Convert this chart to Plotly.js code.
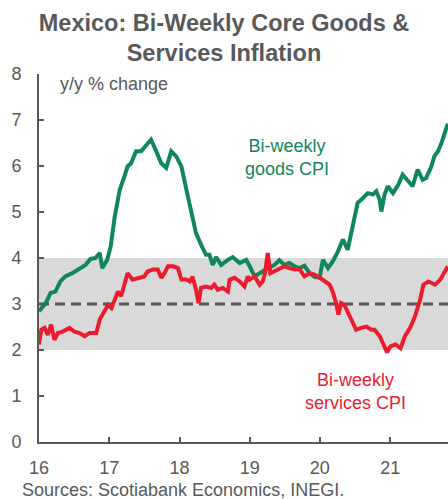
<!DOCTYPE html>
<html>
<head>
<meta charset="utf-8">
<script src="https://cdn.plot.ly/plotly-3.0.1.min.js"></script>
<style>html,body{margin:0;padding:0;background:#fff;}#chart{width:448px;height:499px;}</style>
</head>
<body>
<div id="chart"></div>
<script>
// Bi-weekly core goods CPI, y/y % change
const goodsDates = ["2016-01-01","2016-02-05","2016-03-01","2016-03-26","2016-04-21","2016-05-17","2016-06-22","2016-07-26","2016-08-30","2016-09-25","2016-10-21","2016-11-12","2016-11-25","2016-12-21","2017-01-08","2017-01-29","2017-02-24","2017-03-20","2017-04-06","2017-04-24","2017-05-20","2017-06-15","2017-07-11","2017-08-06","2017-09-02","2017-09-28","2017-10-24","2017-11-19","2017-12-15","2018-01-11","2018-02-06","2018-03-02","2018-03-28","2018-04-23","2018-05-19","2018-06-06","2018-06-23","2018-07-10","2018-08-06","2018-09-10","2018-10-05","2018-11-10","2018-12-14","2019-01-01","2019-01-27","2019-03-10","2019-04-05","2019-05-10","2019-06-05","2019-07-01","2019-07-27","2019-08-22","2019-09-17","2019-10-13","2019-11-09","2019-12-04","2019-12-31","2020-01-17","2020-02-13","2020-03-09","2020-04-04","2020-04-30","2020-05-25","2020-06-12","2020-06-30","2020-07-16","2020-08-12","2020-09-07","2020-10-03","2020-10-21","2020-11-07","2020-11-16","2020-12-03","2020-12-20","2021-01-16","2021-02-12","2021-03-07","2021-04-03","2021-04-28","2021-05-24","2021-06-19","2021-07-07","2021-08-03","2021-08-19","2021-09-07","2021-09-25","2021-10-11","2021-10-28"];
const goodsValues = [2.84,3.02,3.24,3.27,3.49,3.60,3.67,3.75,3.85,3.98,4.00,4.11,3.78,3.96,4.25,4.90,5.48,5.77,5.99,6.06,6.32,6.32,6.43,6.57,6.32,6.06,5.96,6.32,6.21,5.99,5.48,4.98,4.54,4.29,4.07,4.07,3.85,4.02,3.85,3.96,4.02,3.89,3.96,3.82,3.60,3.71,3.78,3.85,3.95,3.85,3.89,3.82,3.78,3.83,3.67,3.59,3.57,3.96,3.78,3.93,4.14,4.40,4.18,4.54,4.90,5.20,5.30,5.41,5.38,5.45,5.27,5.01,5.38,5.56,5.41,5.59,5.81,5.67,5.56,5.92,5.70,5.74,5.99,6.21,6.32,6.50,6.68,6.92];

// Bi-weekly services CPI, y/y % change
const servicesDates = ["2016-01-01","2016-01-13","2016-01-30","2016-02-16","2016-03-04","2016-03-21","2016-04-08","2016-05-03","2016-06-08","2016-07-03","2016-07-30","2016-08-25","2016-09-20","2016-10-25","2016-11-12","2016-12-08","2016-12-25","2017-01-12","2017-01-29","2017-02-15","2017-03-03","2017-03-20","2017-04-06","2017-05-02","2017-06-06","2017-07-02","2017-07-19","2017-08-15","2017-09-10","2017-09-28","2017-10-15","2017-11-02","2017-11-28","2017-12-24","2018-01-11","2018-02-06","2018-02-23","2018-03-10","2018-03-28","2018-04-10","2018-04-23","2018-05-19","2018-06-15","2018-07-01","2018-07-19","2018-08-14","2018-09-10","2018-09-19","2018-10-14","2018-11-10","2018-12-05","2018-12-22","2019-01-01","2019-01-27","2019-02-22","2019-03-10","2019-03-22","2019-04-05","2019-04-19","2019-05-10","2019-06-05","2019-07-01","2019-07-27","2019-08-22","2019-09-17","2019-10-13","2019-11-09","2019-12-04","2020-01-01","2020-01-25","2020-02-21","2020-03-08","2020-03-26","2020-04-07","2020-04-21","2020-05-08","2020-05-25","2020-06-12","2020-07-08","2020-08-03","2020-08-30","2020-09-25","2020-10-12","2020-11-08","2020-11-25","2020-12-16","2021-01-03","2021-01-28","2021-02-24","2021-03-19","2021-04-15","2021-05-10","2021-06-06","2021-06-23","2021-07-19","2021-08-23","2021-09-19","2021-10-15","2021-10-28"];
const servicesValues = [2.12,2.44,2.48,2.33,2.55,2.22,2.37,2.40,2.48,2.40,2.37,2.30,2.37,2.37,2.66,2.88,2.98,2.91,3.09,3.27,3.17,3.42,3.67,3.53,3.57,3.60,3.71,3.75,3.75,3.57,3.67,3.82,3.82,3.78,3.53,3.53,3.49,3.59,3.31,3.02,3.35,3.38,3.35,3.42,3.31,3.35,3.27,3.53,3.57,3.49,3.38,3.60,3.53,3.60,3.42,3.49,3.67,4.11,3.67,3.71,3.78,3.82,3.78,3.75,3.76,3.60,3.67,3.64,3.57,3.49,3.42,3.27,3.02,2.77,3.02,2.98,2.84,2.66,2.44,2.48,2.51,2.44,2.44,2.30,2.15,1.95,2.08,2.12,2.04,2.30,2.48,2.73,3.09,3.42,3.49,3.42,3.53,3.71,3.82];

// Banxico target range and point target
const targetLow = 2;
const targetHigh = 4;
const targetPoint = 3;

const yTicks = [0,1,2,3,4,5,6,7,8];
const xTickDates = ["2016-01-01","2017-01-01","2018-01-01","2019-01-01","2020-01-01","2021-01-01"];
const xTickLabels = ["16","17","18","19","20","21"];

const GREEN = "#10875a";
const RED = "#ec1c2e";
const GREY = "#595959";
const FONT = "Arial, 'Liberation Sans', sans-serif";

const traces = [
  {x: goodsDates, y: goodsValues, type: "scatter", mode: "lines",
   line: {color: GREEN, width: 4}, name: "Bi-weekly goods CPI", hoverinfo: "skip"},
  {x: servicesDates, y: servicesValues, type: "scatter", mode: "lines",
   line: {color: RED, width: 4}, name: "Bi-weekly services CPI", hoverinfo: "skip"}
];

const layout = {
  width: 448, height: 499,
  margin: {l: 39, r: 0, t: 74, b: 57, pad: 0},
  paper_bgcolor: "#ffffff", plot_bgcolor: "#ffffff",
  showlegend: false,
  font: {family: FONT, size: 18, color: GREY},
  title: {
    text: "<b>Mexico: Bi-Weekly Core Goods &<br>Services Inflation</b>",
    x: 0.5, xanchor: "center", y: 0.938, yanchor: "top",
    font: {family: FONT, size: 23.5, color: GREY}
  },
  xaxis: {
    type: "date",
    range: ["2016-01-01", "2021-10-29"],
    tickmode: "array", tickvals: xTickDates, ticktext: xTickLabels,
    ticks: "inside", ticklen: 5, tickwidth: 2, tickcolor: GREY,
    showline: true, linecolor: GREY, linewidth: 2,
    showgrid: false, zeroline: false,
    tickfont: {family: FONT, size: 18, color: GREY},
    ticklabelstandoff: 8
  },
  yaxis: {
    range: [0, 8],
    tickmode: "array", tickvals: yTicks,
    ticks: "inside", ticklen: 5, tickwidth: 2, tickcolor: GREY,
    showline: true, linecolor: GREY, linewidth: 2,
    showgrid: false, zeroline: false,
    tickfont: {family: FONT, size: 18, color: GREY},
    ticklabelstandoff: 12
  },
  shapes: [
    {type: "rect", xref: "paper", yref: "y", x0: 0, x1: 1, y0: targetLow, y1: targetHigh,
     fillcolor: "#d9d9d9", line: {width: 0}, layer: "below"},
    {type: "line", xref: "paper", yref: "y", x0: 0, x1: 1, y0: targetPoint, y1: targetPoint,
     line: {color: GREY, width: 3, dash: "10px,6px"}, layer: "below"}
  ],
  annotations: [
    {text: "y/y % change", xref: "paper", yref: "paper", x: 0.046, y: 0.973,
     xanchor: "left", yanchor: "middle", showarrow: false,
     font: {family: FONT, size: 18, color: GREY}},
    {text: "Bi-weekly<br>goods CPI", xref: "paper", yref: "paper", x: 0.606, y: 0.773,
     xanchor: "center", yanchor: "middle", showarrow: false,
     font: {family: FONT, size: 18, color: GREEN}},
    {text: "Bi-weekly<br>services CPI", xref: "paper", yref: "paper", x: 0.774, y: 0.138,
     xanchor: "center", yanchor: "middle", showarrow: false,
     font: {family: FONT, size: 18, color: RED}},
    {text: "Sources: Scotiabank Economics, INEGI.", xref: "paper", yref: "paper", x: -0.047, y: -0.13,
     xanchor: "left", yanchor: "middle", showarrow: false,
     font: {family: FONT, size: 18, color: GREY}}
  ]
};

Plotly.newPlot("chart", traces, layout, {displayModeBar: false, staticPlot: true});
</script>
</body>
</html>
